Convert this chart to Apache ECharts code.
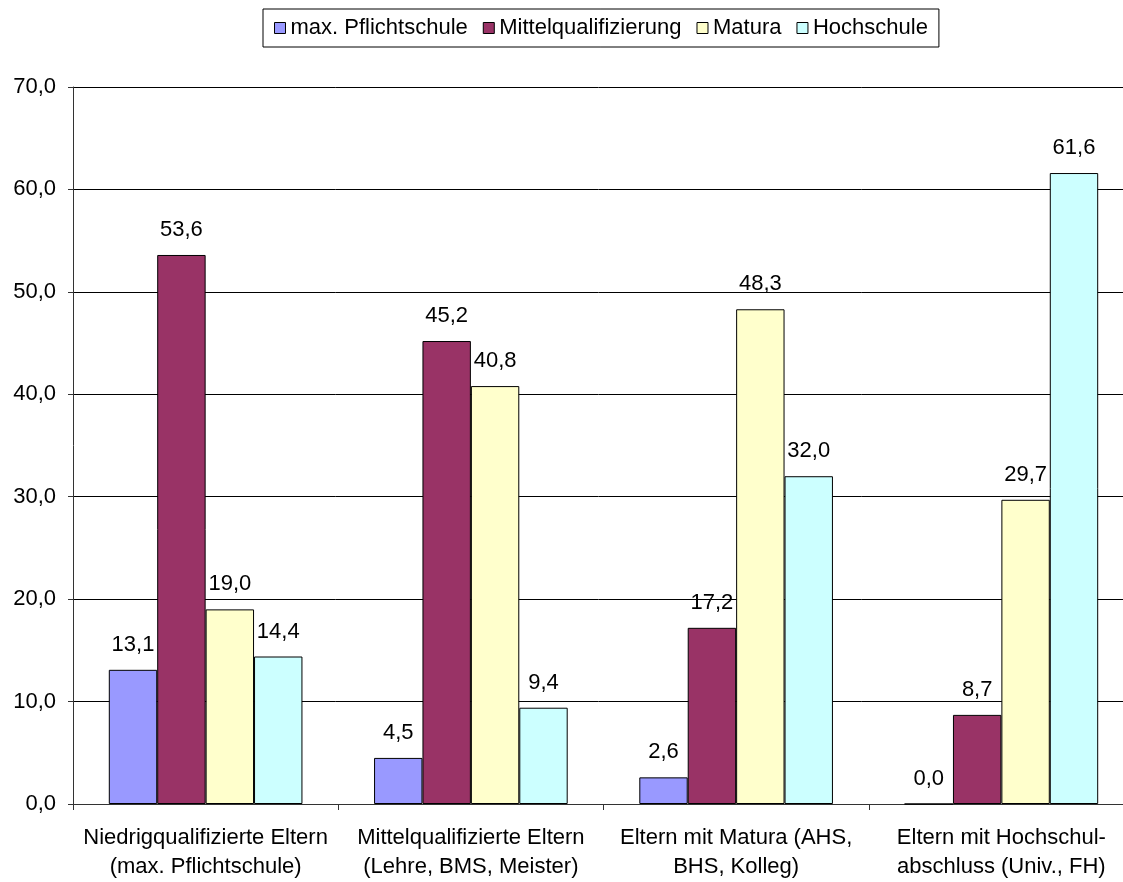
<!DOCTYPE html>
<html>
<head>
<meta charset="utf-8">
<script src="https://cdn.jsdelivr.net/npm/echarts@6/dist/echarts.min.js"></script>
<style>
html,body{margin:0;padding:0;background:#fff;}
#chart{width:1123px;height:882px;}
</style>
</head>
<body>
<div id="chart"></div>
<script>
const categories = [
  'Niedrigqualifizierte Eltern\n(max. Pflichtschule)',
  'Mittelqualifizierte Eltern\n(Lehre, BMS, Meister)',
  'Eltern mit Matura (AHS,\nBHS, Kolleg)',
  'Eltern mit Hochschul-\nabschluss (Univ., FH)'
];
const seriesNames = ['max. Pflichtschule', 'Mittelqualifizierung', 'Matura', 'Hochschule'];
const pflichtschule = [13.1, 4.5, 2.6, 0.0];
const mittelqualifizierung = [53.6, 45.2, 17.2, 8.7];
const matura = [19.0, 40.8, 48.3, 29.7];
const hochschule = [14.4, 9.4, 32.0, 61.6];
const yTicks = { min: 0, max: 70, interval: 10 };

const colors = ['#9999FF', '#993366', '#FFFFCC', '#CCFFFF'];
const values = [pflichtschule, mittelqualifizierung, matura, hochschule];
const fmt = v => v.toFixed(1).replace('.', ',');
const FONT = 'Liberation Sans, Arial, sans-serif';

const chart = echarts.init(document.getElementById('chart'), null, { renderer: 'canvas' });
chart.setOption({
  backgroundColor: '#fff',
  animation: false,
  textStyle: { fontFamily: FONT, color: '#000' },
  legend: {
    left: 263,
    top: 9,
    orient: 'horizontal',
    icon: 'rect',
    itemWidth: 11,
    itemHeight: 11,
    itemGap: 15,
    padding: [8, 11, 8, 11],
    borderColor: '#000',
    borderWidth: 1,
    textStyle: { fontSize: 22, color: '#000', fontFamily: FONT },
    data: seriesNames.map((n, i) => ({ name: n, itemStyle: { color: colors[i], borderColor: '#000', borderWidth: 1 } }))
  },
  grid: { left: 73, top: 87, width: 1061, height: 717, outerBoundsMode: 'none', containLabel: false },
  xAxis: {
    type: 'category',
    data: categories,
    axisLine: { lineStyle: { color: '#333', width: 1 } },
    axisTick: { show: true, length: 6, lineStyle: { color: '#333' } },
    axisLabel: { fontSize: 22, color: '#000', lineHeight: 29, margin: 19, interval: 0, fontFamily: FONT },
    splitLine: { show: false }
  },
  yAxis: {
    type: 'value',
    min: yTicks.min,
    max: yTicks.max,
    interval: yTicks.interval,
    axisLine: { show: true, lineStyle: { color: '#333', width: 1 } },
    axisTick: { show: true, length: 5, lineStyle: { color: '#333' } },
    axisLabel: { fontSize: 22, color: '#000', margin: 17, formatter: v => fmt(v), fontFamily: FONT },
    splitLine: { show: true, lineStyle: { color: '#000', width: 1 } }
  },
  series: seriesNames.map((n, i) => ({
    name: n,
    type: 'bar',
    data: values[i],
    barGap: '0%',
    barCategoryGap: '27%',
    itemStyle: { color: colors[i], borderColor: '#000', borderWidth: 1 },
    label: {
      show: true,
      position: 'top',
      distance: 14,
      fontSize: 22,
      color: '#000',
      fontFamily: FONT,
      formatter: p => fmt(p.value)
    }
  }))
});
</script>
</body>
</html>
